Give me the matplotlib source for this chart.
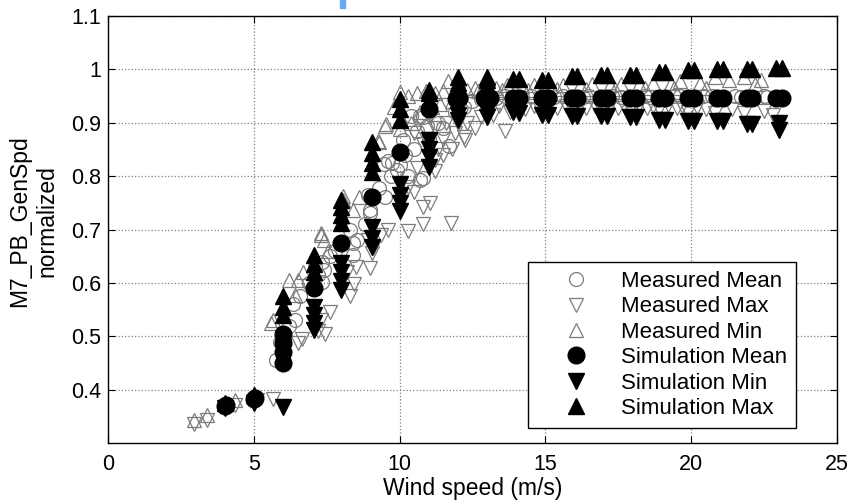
import numpy as np
import matplotlib.pyplot as plt
from matplotlib.patches import Rectangle

plt.rcParams['font.family'] = ['Liberation Sans', 'DejaVu Sans']

# measured mean (open circles)
meas_mean_x = [5.75, 5.9, 6.2, 6.4, 6.35, 6.6, 6.9, 7.2, 7.35, 7.35, 7.4, 7.1, 7.6, 7.8,
               8.4, 8.4, 8.55, 8.3, 8.8, 9.0, 9.0, 9.3, 9.5, 8.9, 9.45, 9.6, 9.75, 9.9, 9.7,
               10.0, 10.3, 10.1, 10.2, 10.6, 10.7, 10.8, 10.5, 11.0, 10.4, 10.7, 10.95, 11.3,
               11.5, 11.7, 10.8, 11.9, 12.2, 12.5, 12.8, 13.3, 13.6, 14.2, 14.5, 15.3, 15.6,
               16.3, 16.5, 17.3, 17.6, 18.4, 18.6, 19.4, 19.6, 20.4, 20.7, 21.5, 21.7, 22.5, 22.6]
meas_mean_y = [0.455, 0.49, 0.52, 0.53, 0.56, 0.575, 0.60, 0.615, 0.602, 0.64, 0.625, 0.63, 0.65, 0.66,
               0.653, 0.675, 0.68, 0.70, 0.71, 0.73, 0.737, 0.778, 0.76, 0.765, 0.822, 0.828, 0.825, 0.812, 0.80,
               0.82, 0.80, 0.868, 0.84, 0.884, 0.793, 0.797, 0.85, 0.87, 0.912, 0.912, 0.893, 0.90,
               0.89, 0.856, 0.91, 0.92, 0.93, 0.94, 0.945, 0.947, 0.95, 0.948, 0.95, 0.948, 0.95,
               0.948, 0.95, 0.95, 0.948, 0.95, 0.948, 0.95, 0.95, 0.95, 0.95, 0.95, 0.948, 0.95, 0.948]

# measured max (open down triangles)
meas_max_x = [2.95, 3.4, 4.35, 5.1, 5.65, 6.5, 6.65, 7.2, 7.45, 7.3, 7.6, 8.3, 8.45, 8.2, 8.5,
              9.0, 9.05, 9.1, 9.35, 8.9, 9.6, 10.3, 10.8, 11.75, 11.05, 10.8, 10.3, 10.5, 10.6,
              11.2, 11.2, 11.5, 11.8, 12.2, 12.25, 12.6, 13.6, 12.0, 12.8, 13.2, 13.8, 10.5, 10.9,
              11.2, 11.5, 11.9, 12.3, 11.0, 11.6, 12.1, 10.8, 11.3, 14.3, 14.8, 15.4, 15.9, 16.4,
              16.9, 17.5, 17.9, 18.5, 18.9, 19.5, 19.9, 20.5, 20.8, 21.4, 21.8, 22.5, 22.8,
              13.4, 14.0, 14.6, 15.1, 15.7, 16.2, 16.7, 17.2, 17.7, 18.2, 18.7, 19.2, 19.7, 20.2]
meas_max_y = [0.336, 0.343, 0.372, 0.38, 0.383, 0.488, 0.495, 0.51, 0.505, 0.53, 0.545, 0.575, 0.598, 0.62, 0.63,
              0.628, 0.656, 0.665, 0.69, 0.68, 0.70, 0.697, 0.71, 0.713, 0.75, 0.743, 0.78, 0.77, 0.816,
              0.81, 0.83, 0.84, 0.85, 0.874, 0.868, 0.89, 0.884, 0.90, 0.91, 0.915, 0.92, 0.88, 0.87,
              0.89, 0.87, 0.88, 0.90, 0.91, 0.90, 0.915, 0.86, 0.85, 0.925, 0.925, 0.928, 0.925, 0.928,
              0.925, 0.928, 0.925, 0.928, 0.925, 0.928, 0.92, 0.925, 0.918, 0.925, 0.918, 0.922, 0.915,
              0.932, 0.933, 0.932, 0.933, 0.932, 0.933, 0.932, 0.933, 0.932, 0.933, 0.932, 0.933, 0.932, 0.93]

# measured min (open up triangles)
meas_min_x = [2.95, 3.4, 4.35, 5.0, 5.6, 5.65, 6.2, 6.4, 6.5, 6.7, 7.3, 7.3, 7.4, 7.55, 8.05, 8.4,
              8.05, 8.6, 9.25, 9.55, 10.0, 10.0, 9.3, 9.5, 9.8, 10.4, 10.7, 11.1, 11.4, 11.8, 10.3,
              10.6, 10.9, 11.2, 11.65, 11.5, 11.9, 12.3, 12.6, 12.9, 13.3, 13.7, 14.2, 14.6, 15.2,
              15.6, 16.2, 16.6, 17.2, 17.6, 18.2, 18.7, 19.3, 19.6, 20.3, 20.8, 21.3, 21.8, 22.4, 22.2,
              12.1, 12.7, 13.5, 14.4, 15.4, 16.4, 17.4, 18.4, 19.4, 20.5]
meas_min_y = [0.343, 0.352, 0.38, 0.392, 0.525, 0.53, 0.605, 0.578, 0.605, 0.62, 0.69, 0.694, 0.68, 0.66, 0.756, 0.737,
              0.762, 0.76, 0.866, 0.897, 0.888, 0.957, 0.863, 0.893, 0.93, 0.90, 0.92, 0.93, 0.935, 0.94, 0.95,
              0.955, 0.96, 0.955, 0.978, 0.96, 0.965, 0.962, 0.965, 0.97, 0.965, 0.97, 0.968, 0.97, 0.968,
              0.97, 0.97, 0.972, 0.97, 0.972, 0.972, 0.975, 0.975, 0.978, 0.975, 0.985, 0.98, 0.985, 0.98, 0.973,
              0.958, 0.96, 0.962, 0.962, 0.963, 0.963, 0.964, 0.965, 0.965, 0.966]

# simulation mean (filled circles)
sim_mean_x = [4.0, 4.05, 5.0, 5.05, 6.0, 6.0, 6.0, 6.0, 7.05, 8.0, 9.05, 10.0, 11.0,
              11.95, 12.05, 12.9, 13.1, 13.9, 14.1, 14.9, 15.1, 15.9, 16.1, 16.9, 17.1,
              17.9, 18.1, 18.9, 19.1, 19.9, 20.1, 20.9, 21.1, 21.9, 22.1, 22.9, 23.1]
sim_mean_y = [0.370, 0.372, 0.383, 0.385, 0.449, 0.470, 0.488, 0.505, 0.590, 0.675, 0.760, 0.846, 0.925,
              0.945, 0.947, 0.946, 0.946, 0.946, 0.946, 0.946, 0.946, 0.946, 0.946, 0.946, 0.946,
              0.946, 0.946, 0.946, 0.946, 0.946, 0.946, 0.946, 0.946, 0.946, 0.946, 0.946, 0.946]

# simulation min (filled down triangles)
sim_min_x = [4.0, 5.0, 6.0, 6.0, 6.0, 7.05, 7.05, 7.05, 7.05, 8.0, 8.0, 8.0, 8.0, 9.05, 9.05, 9.05,
             10.0, 10.0, 10.0, 10.0, 11.0, 11.0, 11.0, 11.0, 12.0, 12.0, 12.0, 12.0, 13.0, 13.0, 13.0,
             13.9, 14.1, 14.9, 15.1, 15.9, 16.1, 16.9, 17.1, 17.9, 18.1, 18.9, 19.1, 19.9, 20.1,
             20.9, 21.1, 21.9, 22.1, 23.0, 23.0]
sim_min_y = [0.365, 0.375, 0.367, 0.47, 0.48, 0.512, 0.525, 0.540, 0.555, 0.587, 0.603, 0.620, 0.637, 0.667, 0.685, 0.705,
             0.735, 0.750, 0.765, 0.785, 0.818, 0.835, 0.850, 0.868, 0.905, 0.915, 0.925, 0.940, 0.910, 0.920, 0.930,
             0.921, 0.918, 0.915, 0.915, 0.913, 0.913, 0.912, 0.912, 0.910, 0.910, 0.905, 0.905, 0.903, 0.903,
             0.904, 0.904, 0.897, 0.897, 0.887, 0.900]

# simulation max (filled up triangles)
sim_max_x = [4.0, 5.0, 6.0, 6.0, 6.0, 7.05, 7.05, 7.05, 8.0, 8.0, 8.0, 8.0, 9.05, 9.05, 9.05, 9.05,
             10.0, 10.0, 10.0, 11.0, 11.0, 12.0, 12.0, 12.0, 12.0, 13.0, 13.0, 13.0, 13.0,
             13.9, 14.1, 14.9, 15.1, 15.9, 16.1, 16.9, 17.1, 17.9, 18.1, 18.9, 19.1, 19.9, 20.1,
             20.9, 21.1, 21.9, 22.1, 22.9, 23.1]
sim_max_y = [0.375, 0.39, 0.540, 0.555, 0.575, 0.621, 0.635, 0.653, 0.713, 0.728, 0.742, 0.756, 0.807, 0.825, 0.843, 0.863,
             0.906, 0.925, 0.944, 0.955, 0.962, 0.955, 0.965, 0.975, 0.985, 0.960, 0.970, 0.980, 0.985,
             0.982, 0.982, 0.980, 0.980, 0.987, 0.987, 0.990, 0.990, 0.990, 0.990, 0.995, 0.995, 0.998, 0.998,
             1.000, 1.000, 1.000, 1.000, 1.003, 1.003]

xticks = [0, 5, 10, 15, 20, 25]
yticks = [0.4, 0.5, 0.6, 0.7, 0.8, 0.9, 1.0, 1.1]
ytick_labels = ['0.4', '0.5', '0.6', '0.7', '0.8', '0.9', '1', '1.1']

grey = '#7c7c7c'

fig = plt.figure(figsize=(8.54, 5.04), dpi=100)
ax = fig.add_axes([108 / 854, 61 / 504, 729 / 854, 427 / 504])

ax.plot(meas_mean_x, meas_mean_y, 'o', ls='none', ms=10, mfc='none', mec=grey, mew=0.9, label='Measured Mean')
ax.plot(meas_max_x, meas_max_y, 'v', ls='none', ms=10.5, mfc='none', mec=grey, mew=0.9, label='Measured Max')
ax.plot(meas_min_x, meas_min_y, '^', ls='none', ms=10.5, mfc='none', mec=grey, mew=0.9, label='Measured Min')
ax.plot(sim_mean_x, sim_mean_y, 'o', ls='none', ms=12, mfc='black', mec='black', label='Simulation Mean')
ax.plot(sim_min_x, sim_min_y, 'v', ls='none', ms=12, mfc='black', mec='black', label='Simulation Min')
ax.plot(sim_max_x, sim_max_y, '^', ls='none', ms=12, mfc='black', mec='black', label='Simulation Max')

ax.set_xlim(0, 25)
ax.set_ylim(0.3, 1.1)
ax.set_xticks(xticks)
ax.set_yticks(yticks)
ax.set_yticklabels(ytick_labels)
ax.grid(True, ls=':', color='#808080', lw=0.9)
ax.tick_params(direction='in', top=True, right=True, length=5, labelsize=15.5)
ax.tick_params(axis='x', pad=8)
ax.tick_params(axis='y', pad=5)
for s in ax.spines.values():
    s.set_linewidth(1.0)

ax.set_xlabel('Wind speed (m/s)', fontsize=16.5, labelpad=1)
ax.set_ylabel('M7_PB_GenSpd\nnormalized', fontsize=16.5, va='center', linespacing=1.25)
ax.yaxis.set_label_coords(-0.102, 0.52)

leg = ax.legend(loc='lower right', bbox_to_anchor=(0.944, 0.035), fontsize=16, frameon=True,
                fancybox=False, edgecolor='black', framealpha=1, borderpad=0.4,
                handlelength=3.5, handletextpad=0.3, labelspacing=0.2, borderaxespad=0)
leg.get_frame().set_linewidth(1.0)

# small blue mark at the top edge
fig.patches.append(Rectangle((340 / 854, 1 - 8 / 504), 5 / 854, 8 / 504,
                             transform=fig.transFigure, color='#6aa9f4', zorder=5))

fig.savefig('out.png', dpi=100)
